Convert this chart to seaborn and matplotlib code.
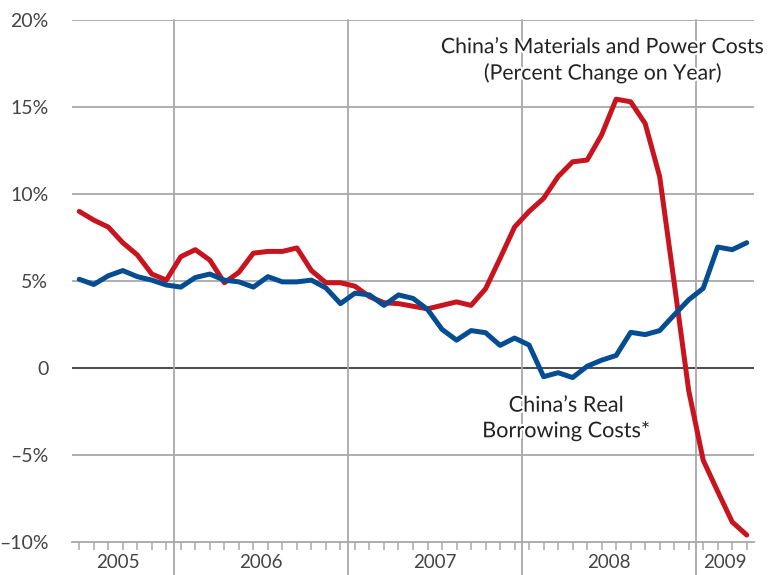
import matplotlib
matplotlib.use("Agg")
import matplotlib.pyplot as plt
import matplotlib.patheffects as pe
import seaborn as sns
import pandas as pd
import numpy as np

# Months from Jun 2005 to Apr 2009
months = pd.period_range("2005-06", "2009-04", freq="M").astype(str).tolist()

materials_power = [9.0, 8.5, 8.1, 7.2, 6.5, 5.4, 5.05, 6.4, 6.8, 6.2, 4.9, 5.5,
                   6.6, 6.7, 6.7, 6.9, 5.6, 4.9, 4.9, 4.7, 4.1, 3.75, 3.7, 3.55,
                   3.4, 3.6, 3.8, 3.6, 4.55, 6.3, 8.1, 9.0, 9.75, 11.0, 11.85, 11.95,
                   13.4, 15.45, 15.3, 14.05, 11.0, 4.9, -1.3, -5.3, -7.1, -8.85, -9.6]
real_borrowing = [5.1, 4.8, 5.3, 5.6, 5.25, 5.05, 4.77, 4.65, 5.2, 5.4, 5.05, 4.95,
                  4.65, 5.25, 4.95, 4.95, 5.05, 4.6, 3.7, 4.3, 4.2, 3.6, 4.2, 4.0,
                  3.37, 2.22, 1.6, 2.15, 2.03, 1.3, 1.72, 1.32, -0.5, -0.27, -0.55, 0.1,
                  0.45, 0.72, 2.05, 1.92, 2.15, 3.05, 3.92, 4.58, 6.95, 6.8, 7.2]

years = ["2005", "2006", "2007", "2008", "2009"]
ytick_vals = [-10, -5, 0, 5, 10, 15, 20]
ytick_labels = ["\u201310%", "\u20135%", "0", "5%", "10%", "15%", "20%"]

series_names = ["China\u2019s Materials and Power Costs", "China\u2019s Real Borrowing Costs*"]

df = pd.DataFrame({
    "idx": list(range(len(months))) * 2,
    "month": months * 2,
    "value": materials_power + real_borrowing,
    "series": [series_names[0]] * len(months) + [series_names[1]] * len(months),
})

sns.set_theme(style="white")
plt.rcParams["font.family"] = ["Lato", "DejaVu Sans"]

fig = plt.figure(figsize=(7.68, 5.75), dpi=100)
ax = fig.add_axes([72 / 768, 1 - 542 / 575, (754 - 72) / 768, (542 - 20) / 575])

grid_c = "#a8a8a8"
for v in ytick_vals:
    if v == 0:
        ax.axhline(v, color="#3a3a3a", lw=1.3, zorder=1)
    elif v != -10:
        ax.axhline(v, color=grid_c, lw=1.3, zorder=1)

month_years = [m[:4] for m in months]
boundaries = [i - 0.5 for i in range(1, len(months)) if month_years[i] != month_years[i - 1]]
for b in boundaries:
    ax.axvline(b, ymin=-33 / 522, ymax=1, color=grid_c, lw=1.3, zorder=1, clip_on=False)

sns.lineplot(data=df, x="idx", y="value", hue="series",
             palette=["#c8141e", "#044d92"], linewidth=3.6, ax=ax,
             legend=False, zorder=3)

ax.set_xlim(-0.5, len(months) - 0.5)
ax.set_ylim(-10, 20)
ax.set_yticks(ytick_vals)
ax.set_yticklabels(ytick_labels, fontsize=14, color="#444444")
ax.tick_params(axis="y", length=0, pad=17)

ax.set_xticks(range(len(months)))
ax.set_xticklabels([])
ax.tick_params(axis="x", direction="out", length=6, width=1.1, color=grid_c, bottom=True)

for s in ["top", "right", "left"]:
    ax.spines[s].set_visible(False)
ax.spines["bottom"].set_color(grid_c)
ax.spines["bottom"].set_linewidth(1.3)
ax.set_xlabel("")
ax.set_ylabel("")

edges = [-0.5] + boundaries + [len(months) - 0.5]
for k, (y, a, b) in enumerate(zip(years, edges[:-1], edges[1:])):
    xc = (a + b) / 2 - (0.35 if k == 0 else 0)
    ax.text(xc, -11.2, y, ha="center", va="center", fontsize=13.5,
            color="#444444", clip_on=False)

stroke = [pe.withStroke(linewidth=3, foreground="white")]
ax.text(36.1, 17.68, "China\u2019s Materials and Power Costs\n(Percent Change on Year)",
        ha="center", va="center", fontsize=15.3, color="#222222", linespacing=1.35,
        path_effects=stroke, zorder=4)
ax.text(33.55, -2.9, "China\u2019s Real\nBorrowing Costs*",
        ha="center", va="center", fontsize=15.6, color="#222222", linespacing=1.35,
        path_effects=stroke, zorder=4)

fig.savefig("out.png", dpi=100)
